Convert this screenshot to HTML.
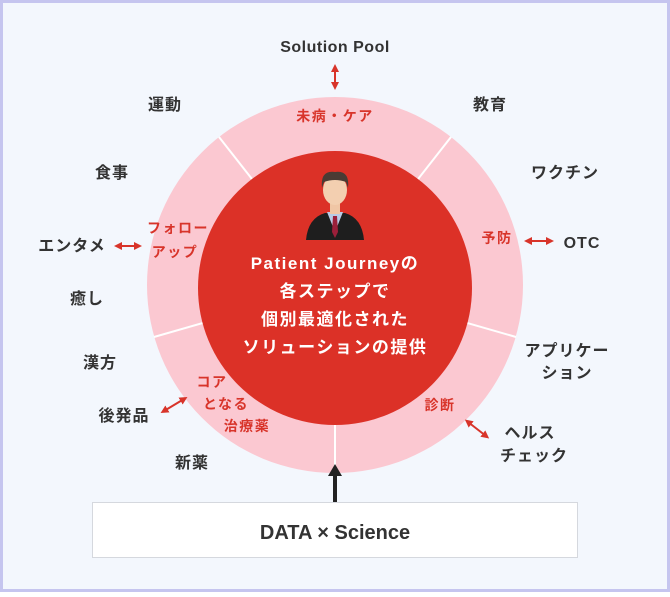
<!DOCTYPE html>
<html><head><meta charset="utf-8"><style>
body{margin:0;width:670px;height:592px;overflow:hidden;font-family:"Liberation Sans","Noto Sans CJK JP",sans-serif}
</style></head><body>
<svg width="670" height="592" xmlns="http://www.w3.org/2000/svg" font-family="'Liberation Sans','Noto Sans CJK JP',sans-serif">
<defs><marker id="a" viewBox="0 0 10 10" refX="5" refY="5" markerWidth="4" markerHeight="4" orient="auto-start-reverse"><path d="M0,0L10,5L0,10z" fill="#d8342a"/></marker></defs>
<rect x="1.5" y="1.5" width="667" height="589" fill="#f3f7fd" stroke="#c5c5ef" stroke-width="3"/>
<circle cx="335" cy="285" r="188" fill="#fbc8d1"/>
<g stroke="#fff" stroke-width="2">
<line x1="335" y1="285" x2="219" y2="137"/><line x1="335" y1="285" x2="451" y2="137"/>
<line x1="335" y1="285" x2="516" y2="337"/><line x1="335" y1="285" x2="154" y2="337"/>
<line x1="335" y1="285" x2="335" y2="473"/></g>
<circle cx="335" cy="288" r="137" fill="#dc3127"/>
<path d="M306,240 Q308,218 325,213 L345,213 Q362,218 364,240 Z" fill="#1e1e1e"/>
<path d="M327,212 L335,232 L343,212 Z" fill="#b8cbe6"/>
<path d="M333,216 L337,216 L338,232 L335,238 L332,232Z" fill="#9b1f3a"/>
<rect x="330" y="202" width="10" height="12" fill="#f0c6a5"/>
<ellipse cx="335" cy="190" rx="12" ry="15" fill="#f3cfb0"/>
<path d="M322,188 Q320,170 335,172 Q350,170 348,188 L346,182 Q335,178 324,182Z" fill="#4a3b34"/>
<g fill="#fff" font-weight="bold" font-size="17" letter-spacing="1.5" text-anchor="middle">
<text x="335" y="269">Patient Journeyの</text><text x="335" y="297">各ステップで</text>
<text x="335" y="325">個別最適化された</text><text x="335" y="353">ソリューションの提供</text></g>
<g fill="#d8342a" font-weight="bold" font-size="14" letter-spacing="1.5" text-anchor="middle">
<text x="335" y="121">未病・ケア</text>
<text x="178" y="233">フォロー</text><text x="175" y="257">アップ</text>
<text x="497" y="243">予防</text>
<text x="212" y="387">コア</text><text x="226" y="409">となる</text><text x="247" y="431">治療薬</text>
<text x="440" y="410">診断</text></g>
<g fill="#333" font-size="16" letter-spacing="1" text-anchor="middle" font-weight="bold">
<text x="335" y="52" letter-spacing="0.5">Solution Pool</text>
<text x="165" y="110">運動</text><text x="490" y="110">教育</text>
<text x="112" y="178">食事</text><text x="565" y="178">ワクチン</text>
<text x="72" y="251">エンタメ</text><text x="582" y="248">OTC</text>
<text x="87" y="304">癒し</text>
<text x="567" y="356">アプリケー</text><text x="567" y="378">ション</text>
<text x="100" y="368">漢方</text><text x="124" y="421">後発品</text>
<text x="530" y="438">ヘルス</text><text x="534" y="461">チェック</text>
<text x="192" y="468">新薬</text></g>
<g stroke="#d8342a" stroke-width="2">
<line x1="335" y1="68" x2="335" y2="86" marker-start="url(#a)" marker-end="url(#a)"/>
<line x1="118" y1="246" x2="138" y2="246" marker-start="url(#a)" marker-end="url(#a)"/>
<line x1="528" y1="241" x2="550" y2="241" marker-start="url(#a)" marker-end="url(#a)"/>
<line x1="164" y1="411" x2="184" y2="399" marker-start="url(#a)" marker-end="url(#a)"/>
<line x1="468" y1="422" x2="486" y2="436" marker-start="url(#a)" marker-end="url(#a)"/>
</g>
<line x1="335" y1="502" x2="335" y2="474" stroke="#222" stroke-width="4"/>
<path d="M328,476 L335,464 L342,476Z" fill="#222"/>
<rect x="92.5" y="502.5" width="485" height="55" fill="#fff" stroke="#d5d8de"/>
<text x="335" y="539" text-anchor="middle" font-size="20" font-weight="bold" fill="#333">DATA × Science</text>
</svg>
</body></html>
